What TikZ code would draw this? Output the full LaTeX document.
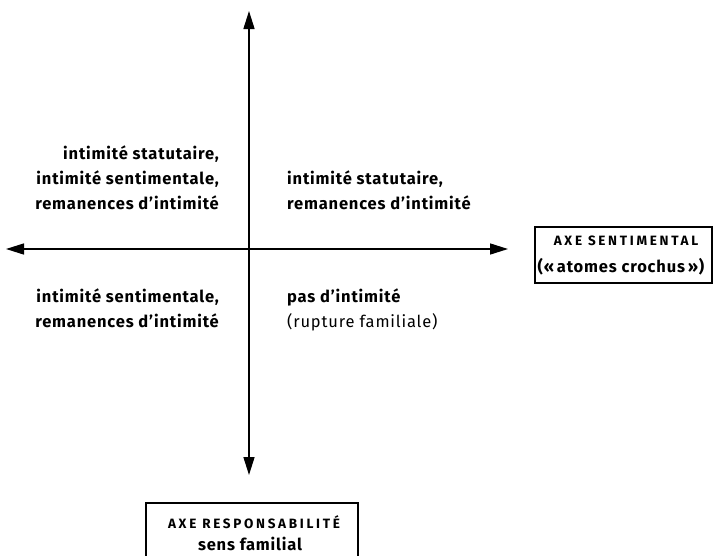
\documentclass[tikz,border=0pt]{standalone}
\usepackage{fontspec}
\setmainfont{Fira Sans}[Ligatures=NoCommon]
\usetikzlibrary{arrows.meta}
\tikzset{
  axis/.style={line width=1.5pt, -{Triangle[length=18pt,width=11pt]}},
  lbl/.style={inner sep=0pt, font=\fontsize{16.5}{25}\selectfont\bfseries\addfontfeatures{LetterSpace=5}},
  lblr/.style={lbl, align=right, anchor=north east},
  lbll/.style={lbl, align=left, anchor=north west},
  axbox/.style={draw, line width=1.2pt, inner sep=0pt},
  caps/.style={font=\fontsize{13.5}{14}\selectfont\bfseries\addfontfeatures{LetterSpace=20}},
}
\begin{document}
\begin{tikzpicture}[x=1pt,y=-1pt]
\clip (0,0) rectangle (713,555);
\useasboundingbox (0,0) rectangle (713,555);
\coordinate (c) at (249,249);
\coordinate (top) at (249,11);
\coordinate (bot) at (249,475);
\coordinate (left) at (6,249);
\coordinate (right) at (508,249);
\draw[axis] (c) -- (top);
\draw[axis] (c) -- (bot);
\draw[axis] (c) -- (left);
\draw[axis] (c) -- (right);
\node[lblr] (tl) at (219,146) {intimité statutaire,\\intimité sentimentale,\\remanences d’intimité};
\node[lbll] (tr) at (287,171) {intimité statutaire,\\remanences d’intimité};
\node[lblr] (bl) at (219,289) {intimité sentimentale,\\remanences d’intimité};
\node[lbll] (br) at (287,289) {pas d’intimité\\\mdseries (rupture familiale)};
\draw[axbox] (535,227) rectangle (712,283);
\node[caps] (rs) at (626,241) {AXE SENTIMENTAL};
\node[lbl] (rt) at (621,267) {(«\,atomes crochus\,»)};
\draw[axbox] (146,503) rectangle (358,570);
\node[caps] (bs) at (254,522) {AXE RESPONSABILITÉ};
\node[lbl] (bt) at (250,544) {sens familial};
\end{tikzpicture}
\end{document}
